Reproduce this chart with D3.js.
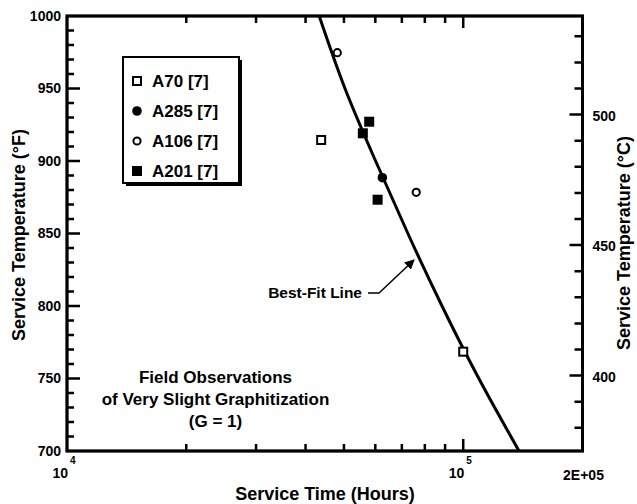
<!DOCTYPE html>
<html>
<head>
<meta charset="utf-8">
<script src="https://cdn.jsdelivr.net/npm/d3@7"></script>
<style>
  body { margin: 0; background: #fff; }
  svg { display: block; font-family: "Liberation Sans", Arial, sans-serif; }
  .lbl { font-weight: bold; fill: #000; }
</style>
</head>
<body>
<svg id="chart" width="637" height="504"></svg>
<script>
// ---- data ----
const seriesNames = ['A70 [7]', 'A285 [7]', 'A106 [7]', 'A201 [7]'];
const seriesShapes = ['openSquare', 'filledCircle', 'openCircle', 'filledSquare'];

const a70Hours = [43800, 100000];
const a70Temp = [914.5, 768.5];
const a285Hours = [62500];
const a285Temp = [888.5];
const a106Hours = [48100, 76100];
const a106Temp = [974.7, 878.4];
const a201Hours = [57900, 55800, 60800];
const a201Temp = [927.1, 919.1, 873.3];

// best-fit line, read at every 50 F
const fitHours = [43300, 50300, 60100, 72500, 88400, 109500, 138300];
const fitTemp = [1000, 950, 900, 850, 800, 750, 700];

// tick labels
const fTickLabels = [700, 750, 800, 850, 900, 950, 1000];
const cTickLabels = [400, 450, 500];
const xLabelValues = [1e4, 1e5, 2e5];
const xMinorTicks = [2e4, 3e4, 4e4, 5e4, 6e4, 7e4, 8e4, 9e4];
const xMajorTicks = [1e5];

const noteLines = ['Field Observations', 'of Very Slight Graphitization', '(G = 1)'];

// ---- layout ----
const mLeft = 67, mRight = 582.5, mTop = 16, mBottom = 451;
const svg = d3.select('#chart');

const x = d3.scaleLog().domain([1e4, 2e5]).range([mLeft, mRight]);
const y = d3.scaleLinear().domain([700, 1000]).range([mBottom, mTop]);
const toC = f => (f - 32) * 5 / 9;
const yc = d3.scaleLinear().domain([toC(700), toC(1000)]).range([mBottom, mTop]);

const fMinor = d3.range(710, 1000, 10).filter(v => v % 50 !== 0);
const cMinor = d3.range(380, 540, 10).filter(v => v % 50 !== 0);

// frame
svg.append('rect')
  .attr('x', mLeft).attr('y', mTop)
  .attr('width', mRight - mLeft).attr('height', mBottom - mTop)
  .attr('fill', 'none').attr('stroke', '#000').attr('stroke-width', 3);

// frame outline plus all inward tick marks in one path
const fp = d3.path();
fp.rect(mLeft, mTop, mRight - mLeft, mBottom - mTop);
fMinor.forEach(v => { fp.moveTo(mLeft, y(v)); fp.lineTo(mLeft + 7, y(v)); });
fTickLabels.forEach(v => { fp.moveTo(mLeft, y(v)); fp.lineTo(mLeft + 13, y(v)); });
cMinor.forEach(v => { fp.moveTo(mRight, yc(v)); fp.lineTo(mRight - 8, yc(v)); });
cTickLabels.forEach(v => { fp.moveTo(mRight, yc(v)); fp.lineTo(mRight - 13, yc(v)); });
xMinorTicks.forEach(v => {
  fp.moveTo(x(v), mBottom); fp.lineTo(x(v), mBottom - 7);
  fp.moveTo(x(v), mTop); fp.lineTo(x(v), mTop + 7);
});
xMajorTicks.forEach(v => {
  fp.moveTo(x(v), mBottom); fp.lineTo(x(v), mBottom - 12);
  fp.moveTo(x(v), mTop); fp.lineTo(x(v), mTop + 12);
});
svg.append('path').attr('d', fp.toString())
  .attr('fill', 'none').attr('stroke', '#000').attr('stroke-width', 2.5);

// left tick labels
svg.append('g').attr('class', 'lbl').selectAll('text').data(fTickLabels).join('text')
  .attr('x', mLeft - 6).attr('y', d => y(d)).attr('dy', '0.35em')
  .attr('text-anchor', 'end').style('font-size', '14px')
  .text(d => d);

// right tick labels
svg.append('g').attr('class', 'lbl').selectAll('text').data(cTickLabels).join('text')
  .attr('x', mRight + 10).attr('y', d => yc(d) + 1).attr('dy', '0.35em')
  .style('font-size', '14px')
  .text(d => d);

// bottom tick labels
const xl = svg.append('g').attr('class', 'lbl');
xLabelValues.forEach(v => {
  const e = Math.log10(v);
  if (Number.isInteger(e)) {
    xl.append('text').attr('x', x(v) + 1).attr('y', 478)
      .attr('text-anchor', 'end').style('font-size', '14px').text('10');
    xl.append('text').attr('x', x(v) + 3).attr('y', 464)
      .style('font-size', '10px').text(e);
  } else {
    xl.append('text').attr('x', x(v) + 1).attr('y', 480)
      .attr('text-anchor', 'middle').style('font-size', '14px')
      .text(d3.format('.0e')(v).toUpperCase().replace('E+', 'E+0'));
  }
});

// axis titles
svg.append('text').attr('class', 'lbl')
  .attr('x', 325).attr('y', 500)
  .attr('text-anchor', 'middle').style('font-size', '18px')
  .text('Service Time (Hours)');
svg.append('text').attr('class', 'lbl')
  .attr('transform', 'translate(25,235) rotate(-90)')
  .attr('text-anchor', 'middle').style('font-size', '18px')
  .text('Service Temperature (°F)');
svg.append('text').attr('class', 'lbl')
  .attr('transform', 'translate(630,243) rotate(-90)')
  .attr('text-anchor', 'middle').style('font-size', '18px')
  .text('Service Temperature (°C)');

// best-fit line
const plot = svg.append('g');
const line = d3.line()
  .x((d, i) => x(fitHours[i]))
  .y(d => y(d))
  .curve(d3.curveNatural);
plot.append('path')
  .attr('d', line(fitTemp))
  .attr('fill', 'none').attr('stroke', '#000').attr('stroke-width', 3);

// markers
function drawMarker(g, shape, cx, cy) {
  if (shape === 'openSquare') {
    g.append('rect').attr('x', cx - 4).attr('y', cy - 4).attr('width', 8).attr('height', 8)
      .attr('fill', '#fff').attr('stroke', '#000').attr('stroke-width', 2);
  } else if (shape === 'filledSquare') {
    g.append('rect').attr('x', cx - 5).attr('y', cy - 5).attr('width', 10).attr('height', 10)
      .attr('fill', '#000');
  } else if (shape === 'filledCircle') {
    g.append('circle').attr('cx', cx).attr('cy', cy).attr('r', 4.8).attr('fill', '#000');
  } else {
    g.append('circle').attr('cx', cx).attr('cy', cy).attr('r', 3.6)
      .attr('fill', '#fff').attr('stroke', '#000').attr('stroke-width', 2);
  }
}

const seriesData = [
  [a70Hours, a70Temp],
  [a285Hours, a285Temp],
  [a106Hours, a106Temp],
  [a201Hours, a201Temp]
];
seriesData.forEach(([hrs, temps], s) => {
  hrs.forEach((h, i) => drawMarker(plot, seriesShapes[s], x(h), y(temps[i])));
});

// legend
const lg = svg.append('g');
lg.append('rect').attr('x', 126).attr('y', 60).attr('width', 116).attr('height', 126).attr('fill', '#000');
lg.append('rect').attr('x', 123).attr('y', 57).attr('width', 116).attr('height', 126)
  .attr('fill', '#fff').attr('stroke', '#000').attr('stroke-width', 2);
seriesNames.forEach((name, i) => {
  const ry = 81 + i * 30;
  drawMarker(lg, seriesShapes[i], 137, ry);
  lg.append('text').attr('class', 'lbl').attr('x', 152).attr('y', ry + 6)
    .style('font-size', '17px').text(name);
});

// annotations
svg.append('text').attr('class', 'lbl')
  .attr('x', 362).attr('y', 298).attr('text-anchor', 'end')
  .style('font-size', '15.5px').text('Best-Fit Line');
svg.append('defs').append('marker')
  .attr('id', 'arrow').attr('viewBox', '0 0 10 10').attr('refX', 9).attr('refY', 5)
  .attr('markerWidth', 10).attr('markerHeight', 10).attr('markerUnits', 'userSpaceOnUse')
  .attr('orient', 'auto')
  .append('path').attr('d', 'M0,0 L10,5 L0,10 z').attr('fill', '#000');
svg.append('path')
  .attr('d', 'M368,293 L379,293 L414,260')
  .attr('fill', 'none').attr('stroke', '#000').attr('stroke-width', 1.5)
  .attr('marker-end', 'url(#arrow)');

const note = svg.append('g').attr('class', 'lbl').attr('text-anchor', 'middle');
noteLines.forEach((t, i) => {
  note.append('text').attr('x', 215.5).attr('y', 383 + i * 22)
    .style('font-size', '17px').text(t);
});
</script>
</body>
</html>
